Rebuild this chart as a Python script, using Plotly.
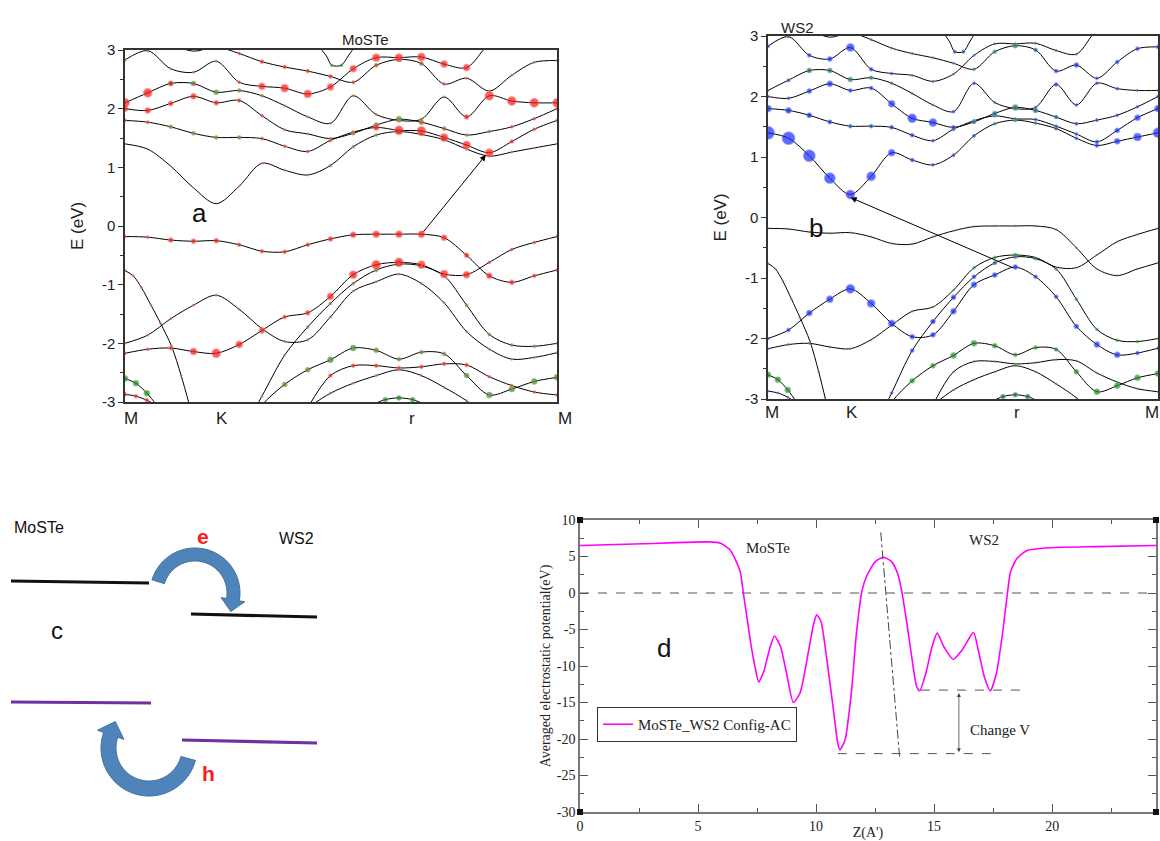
import numpy as np
import plotly.graph_objects as go

W, H = 1160, 841

# ---------------- band-structure data (shared energies, projected weights) ----------------
KPATH_TICKS = [0.0, 0.333, 1.0, 1.577]
KPATH_LABELS = ["M", "K", "r", "M"]
E_TICKS = [-3, -2, -1, 0, 1, 2, 3]
E_TICK_LABELS = ["-3", "-2", "-1", "0", "1", "2", "3"]

K_GRID = [0.0, 0.083, 0.167, 0.25, 0.333, 0.417, 0.5, 0.583, 0.667, 0.75,
          0.833, 0.917, 1.0, 1.082, 1.165, 1.247, 1.33, 1.412, 1.494, 1.577]

CB1_E = [1.40, 1.31, 1.02, 0.65, 0.38, 0.68, 1.07, 0.95, 0.87, 1.03, 1.35, 1.55, 1.61, 1.56, 1.47, 1.31, 1.19, 1.26, 1.33, 1.40]
CB1_RED = [0, 0, 0, 0, 0, 2, 2, 2, 2, 2, 2, 2, 2, 2, 2, 2, 2, 2, 2, 2]
CB1_BLUE = [13, 13, 12, 11, 9, 9, 7, 4, 3, 3, 3, 2, 2, 2, 3, 3, 4, 6, 8, 10]
CB1_GREEN = [0, 0, 0, 0, 0, 0, 0, 2, 2, 3, 3, 3, 4, 3, 3, 2, 2, 2, 0, 0]

CB2_E = [1.80, 1.77, 1.69, 1.58, 1.51, 1.51, 1.49, 1.36, 1.27, 1.46, 1.60, 1.68, 1.63, 1.62, 1.51, 1.38, 1.25, 1.44, 1.65, 1.80]
CB2_RED = [3, 3, 2, 2, 2, 2, 3, 3, 3, 3, 3, 6, 9, 9, 8, 8, 8, 4, 3, 3]
CB2_BLUE = [7, 6, 5, 4, 3, 3, 4, 4, 3, 3, 2, 2, 2, 3, 3, 3, 4, 5, 6, 7]
CB2_GREEN = [3, 3, 4, 4, 4, 4, 3, 2, 2, 3, 3, 3, 3, 2, 2, 2, 2, 2, 2, 2]

CB3_E = [2.00, 1.97, 2.09, 2.21, 2.10, 2.14, 1.88, 1.64, 1.57, 1.49, 1.58, 1.72, 1.82, 1.77, 1.66, 1.55, 1.61, 1.69, 1.83, 2.00]
CB3_RED = [6, 6, 5, 6, 5, 4, 3, 2, 2, 2, 2, 3, 3, 3, 3, 2, 2, 3, 3, 3]
CB3_BLUE = [3, 3, 5, 6, 4, 4, 7, 9, 8, 4, 3, 3, 3, 3, 3, 3, 3, 3, 3, 3]
CB3_GREEN = [2, 2, 2, 2, 2, 2, 2, 2, 2, 3, 4, 5, 6, 5, 4, 3, 3, 2, 2, 2]

CB4_E = [2.10, 2.27, 2.43, 2.43, 2.28, 2.31, 2.22, 2.05, 1.86, 1.75, 2.22, 1.90, 1.80, 1.82, 2.20, 1.86, 2.22, 2.13, 2.10, 2.10]
CB4_RED = [9, 9, 5, 3, 2, 2, 2, 2, 2, 2, 2, 2, 2, 2, 2, 5, 9, 9, 9, 9]
CB4_BLUE = [2, 3, 3, 3, 2, 2, 2, 2, 2, 3, 3, 2, 2, 2, 4, 3, 3, 3, 2, 2]
CB4_GREEN = [2, 3, 5, 5, 5, 4, 3, 2, 2, 2, 2, 2, 3, 3, 2, 2, 2, 2, 2, 2]

CB5_E = [2.83, 2.99, 2.68, 2.62, 2.81, 2.45, 2.38, 2.35, 2.25, 2.37, 2.68, 2.87, 2.87, 2.88, 2.76, 2.70, 3.10, 3.25, 3.30, 3.30]
CB5_RED = [2, 2, 2, 2, 2, 3, 7, 8, 8, 7, 7, 8, 8, 8, 7, 7, 7, 0, 0, 0]
CB5_BLUE = [3, 2, 4, 5, 8, 4, 3, 2, 2, 2, 2, 2, 2, 2, 2, 2, 2, 0, 0, 0]
CB5_GREEN = [3, 3, 2, 2, 2, 2, 2, 2, 2, 2, 2, 2, 2, 2, 2, 2, 2, 0, 0, 0]

CB6_E = [3.30, 3.30, 3.10, 2.98, 3.05, 2.94, 2.80, 2.71, 2.64, 2.55, 2.45, 2.74, 2.84, 2.77, 2.42, 2.52, 2.30, 2.57, 2.79, 2.82]
CB6_RED = [0, 0, 0, 0, 0, 3, 4, 4, 4, 4, 3, 3, 3, 3, 3, 2, 2, 2, 2, 2]
CB6_BLUE = [0, 0, 0, 0, 0, 2, 2, 2, 2, 2, 2, 2, 2, 3, 4, 5, 3, 4, 4, 4]
CB6_GREEN = [0, 0, 0, 0, 0, 2, 2, 2, 2, 2, 3, 4, 5, 4, 2, 2, 2, 2, 2, 2]

TOPV_K = [0.70, 0.735, 0.755, 0.79, 0.815, 0.845]
TOPV_E = [3.10, 2.90, 2.74, 2.74, 2.90, 3.10]
TOPV_RED = [0, 0, 0, 0, 0, 0]
TOPV_BLUE = [0, 0, 3, 3, 0, 0]
TOPV_GREEN = [0, 0, 3, 3, 0, 0]

VB1_E = [-0.18, -0.19, -0.24, -0.26, -0.25, -0.32, -0.43, -0.44, -0.32, -0.22, -0.15, -0.14, -0.14, -0.14, -0.20, -0.50, -0.85, -0.96, -0.85, -0.75]
VB1_RED = [3, 3, 5, 5, 5, 4, 4, 4, 4, 5, 6, 7, 7, 7, 6, 5, 6, 5, 4, 3]
VB1_BLUE = [0] * 20
VB1_GREEN = [2] * 20

VB2_E = [-2.17, -2.10, -2.08, -2.14, -2.17, -2.02, -1.78, -1.55, -1.48, -1.20, -0.83, -0.66, -0.62, -0.66, -0.82, -0.83, -0.62, -0.40, -0.28, -0.18]
VB2_RED = [3, 3, 4, 7, 9, 7, 6, 4, 5, 7, 8, 9, 9, 8, 8, 7, 3, 3, 3, 3]
VB2_BLUE = [2, 2, 2, 2, 0, 0, 0, 0, 0, 0, 0, 0, 0, 0, 0, 0, 0, 0, 0, 0]
VB2_GREEN = [2, 2, 2, 2, 2, 2, 2, 2, 2, 2, 3, 3, 4, 0, 0, 0, 2, 2, 2, 2]

VB3_E = [None, None, None, None, None, -3.6, -2.9, -2.2, -1.72, -1.32, -0.98, -0.75, -0.65, -0.68, -0.85, -1.35, -1.85, -2.03, -2.05, -2.00]
VB3_RED = [0, 0, 0, 0, 0, 2, 2, 2, 2, 2, 2, 2, 2, 2, 2, 2, 2, 2, 2, 2]
VB3_BLUE = [0, 0, 0, 0, 0, 2, 3, 4, 5, 5, 4, 3, 2, 0, 0, 0, 0, 0, 0, 0]
VB3_GREEN = [0, 0, 0, 0, 0, 2, 2, 2, 3, 3, 3, 4, 4, 3, 3, 3, 3, 3, 3, 2]

VB4_E = [-2.00, -1.86, -1.58, -1.35, -1.18, -1.42, -1.75, -1.97, -1.94, -1.55, -1.11, -0.95, -0.82, -0.98, -1.31, -1.80, -2.10, -2.27, -2.24, -2.16]
VB4_RED = [2] * 20
VB4_BLUE = [3, 4, 6, 7, 9, 8, 7, 5, 5, 6, 6, 5, 5, 4, 4, 5, 6, 6, 4, 3]
VB4_GREEN = [2] * 20

VB5_K = [0.0, 0.03, 0.06, 0.095, 0.13, 0.17, 0.205, 0.235]
VB5_E = [-0.76, -0.85, -1.05, -1.35, -1.66, -2.05, -2.55, -3.05]
VB5_RED = [2] * 8
VB5_BLUE = [0] * 8
VB5_GREEN = [2] * 8

VB6_E = [None, None, None, None, None, -3.6, -3.05, -2.70, -2.45, -2.28, -2.08, -2.12, -2.27, -2.15, -2.18, -2.55, -2.88, -2.78, -2.65, -2.58]
VB6_RED = [0, 0, 0, 0, 0, 0, 2, 2, 2, 2, 2, 2, 2, 2, 2, 2, 2, 2, 2, 2]
VB6_BLUE = [0] * 20
VB6_GREEN = [0, 0, 0, 0, 0, 0, 4, 5, 5, 6, 6, 5, 4, 4, 4, 5, 6, 6, 6, 6]

VB7_E = [None] * 8 + [-3.1, -2.55, -2.38, -2.38, -2.42, -2.40, -2.35, -2.37, -2.57, -2.72, -2.83, -2.88]
VB7_RED = [0] * 8 + [4, 4, 4, 4, 4, 4, 4, 4, 3, 3, 3, 3]
VB7_BLUE = [0] * 20
VB7_GREEN = [0] * 8 + [2] * 12

VB8_E = [None] * 8 + [-3.1, -2.85, -2.68, -2.55, -2.45, -2.55, -2.75, -2.98, -3.3, None, None, None]
VB8_RED = [0] * 8 + [2] * 9 + [0] * 3
VB8_BLUE = [0] * 20
VB8_GREEN = [0] * 8 + [2] * 9 + [0] * 3

VB9_K = [0.0, 0.04, 0.08, 0.12]
VB9_E = [-2.60, -2.68, -2.85, -3.08]
VB9_RED = [0, 0, 0, 0]
VB9_BLUE = [0, 0, 0, 0]
VB9_GREEN = [6, 6, 6, 6]

VB10_K = [0.0, 0.04, 0.08, 0.12]
VB10_E = [-2.87, -2.90, -2.97, -3.08]
VB10_RED = [4, 4, 4, 4]
VB10_BLUE = [2, 2, 2, 2]
VB10_GREEN = [2, 2, 2, 2]

VB11_K = [0.90, 0.95, 1.0, 1.05, 1.10]
VB11_E = [-3.05, -2.96, -2.93, -2.96, -3.05]
VB11_RED = [0, 0, 0, 0, 0]
VB11_BLUE = [3, 3, 3, 3, 3]
VB11_GREEN = [5, 5, 5, 5, 5]

# ---------------- electrostatic potential data ----------------
POT_Z = [0, 2.68, 5.42, 5.93, 6.36, 6.65, 6.79, 6.92, 7.13, 7.26, 7.44, 7.57, 7.81, 8.02, 8.24,
         8.50, 8.75, 9.04, 9.32, 9.69, 9.90, 10.03, 10.21, 10.46, 10.72, 10.92, 11.01, 11.23,
         11.49, 11.71, 11.95, 12.17, 12.51, 12.85, 13.20, 13.45, 13.62, 13.85, 14.05, 14.26,
         14.39, 14.65, 14.91, 15.13, 15.42, 15.81, 16.19, 16.67, 16.87, 17.13, 17.38, 17.64,
         17.90, 18.07, 18.24, 18.50, 18.92, 19.95, 21.83, 24.4]
POT_V = [6.5, 6.75, 7.0, 6.85, 5.9, 4.1, 2.9, 0.0, -4.6, -7.4, -10.5, -12.2, -10.5, -7.8, -5.9,
         -7.4, -11.0, -15.0, -13.7, -7.8, -4.2, -3.0, -3.9, -9.2, -15.6, -20.6, -21.5, -20.1,
         -13.8, -5.5, 0.4, 2.5, 4.3, 4.9, 4.3, 2.7, 0.4, -4.2, -8.7, -12.8,
         -13.4, -11.0, -7.4, -5.5, -7.4, -9.1, -7.8, -5.4, -7.8, -11.5, -13.4, -11.0,
         -5.5, -1.0, 2.9, 4.7, 5.8, 6.2, 6.35, 6.5]
POT_NAME = "MoSTe_WS2 Config-AC"
V_TICKS = [-30, -25, -20, -15, -10, -5, 0, 5, 10]
V_TICK_LABELS = ["-30", "-25", "-20", "-15", "-10", "-5", "0", "5", "10"]

# ---------------------------------------------------------------------------------
def px(x):
    return x / W


def py(y):
    return 1 - y / H


BANDS = [
    (K_GRID, CB1_E, CB1_RED, CB1_BLUE, CB1_GREEN),
    (K_GRID, CB2_E, CB2_RED, CB2_BLUE, CB2_GREEN),
    (K_GRID, CB3_E, CB3_RED, CB3_BLUE, CB3_GREEN),
    (K_GRID, CB4_E, CB4_RED, CB4_BLUE, CB4_GREEN),
    (K_GRID, CB5_E, CB5_RED, CB5_BLUE, CB5_GREEN),
    (K_GRID, CB6_E, CB6_RED, CB6_BLUE, CB6_GREEN),
    (TOPV_K, TOPV_E, TOPV_RED, TOPV_BLUE, TOPV_GREEN),
    (K_GRID, VB1_E, VB1_RED, VB1_BLUE, VB1_GREEN),
    (K_GRID, VB2_E, VB2_RED, VB2_BLUE, VB2_GREEN),
    (K_GRID, VB3_E, VB3_RED, VB3_BLUE, VB3_GREEN),
    (K_GRID, VB4_E, VB4_RED, VB4_BLUE, VB4_GREEN),
    (VB5_K, VB5_E, VB5_RED, VB5_BLUE, VB5_GREEN),
    (K_GRID, VB6_E, VB6_RED, VB6_BLUE, VB6_GREEN),
    (K_GRID, VB7_E, VB7_RED, VB7_BLUE, VB7_GREEN),
    (K_GRID, VB8_E, VB8_RED, VB8_BLUE, VB8_GREEN),
    (VB9_K, VB9_E, VB9_RED, VB9_BLUE, VB9_GREEN),
    (VB10_K, VB10_E, VB10_RED, VB10_BLUE, VB10_GREEN),
    (VB11_K, VB11_E, VB11_RED, VB11_BLUE, VB11_GREEN),
]

fig = go.Figure()

PANELS = [
    dict(xa="x", ya="y", wi=2, col="#ff1a1a", edge="#ff8a8a", lab_y=418, shifts=[6, 6, 13, 8]),
    dict(xa="x2", ya="y2", wi=3, col="#1a2cff", edge="#7f8cff", lab_y=413, shifts=[4, 2, 2, -6]),
]
GREEN = "#1f8c1f"
GREEN_EDGE = "#63b863"

for p in PANELS:
    for b in BANDS:
        k = np.array(b[0], dtype=float)
        e = np.array(b[1], dtype=float)
        fig.add_trace(go.Scatter(x=k, y=e, xaxis=p["xa"], yaxis=p["ya"], mode="lines",
                                 line=dict(color="black", width=1, shape="spline", smoothing=0.9),
                                 hoverinfo="skip", showlegend=False))
    for b in BANDS:
        k = np.array(b[0], dtype=float)
        e = np.array(b[1], dtype=float)
        s = np.array(b[4], dtype=float)
        ym = np.where(s > 0, e, np.nan)
        fig.add_trace(go.Scatter(x=k, y=ym, xaxis=p["xa"], yaxis=p["ya"], mode="markers",
                                 marker=dict(size=s, color=GREEN, line=dict(color=GREEN_EDGE, width=0.6)),
                                 hoverinfo="skip", showlegend=False))
    for b in BANDS:
        k = np.array(b[0], dtype=float)
        e = np.array(b[1], dtype=float)
        s = np.array(b[p["wi"]], dtype=float)
        ym = np.where(s > 0, e, np.nan)
        fig.add_trace(go.Scatter(x=k, y=ym, xaxis=p["xa"], yaxis=p["ya"], mode="markers",
                                 marker=dict(size=s, color=p["col"], line=dict(color=p["edge"], width=0.8)),
                                 hoverinfo="skip", showlegend=False))

# potential curve (panel d)
fig.add_trace(go.Scatter(x=POT_Z, y=POT_V, xaxis="x4", yaxis="y4", mode="lines", name=POT_NAME,
                         line=dict(color="#ff00ff", width=1.6, shape="spline", smoothing=0.6),
                         hoverinfo="skip", showlegend=True))

SANS = "Liberation Sans, Arial, sans-serif"
SERIF = "Liberation Serif, Times New Roman, serif"

band_x = dict(range=[0, 1.577], tickvals=KPATH_TICKS, showticklabels=False, ticks="",
              showline=True, mirror=True, linecolor="#333", linewidth=1.5, showgrid=False,
              zeroline=False, automargin=False)
band_y = dict(range=[-3, 3], tickvals=E_TICKS, ticktext=E_TICK_LABELS, ticks="outside", ticklen=5,
              tickcolor="#333",
              minor=dict(dtick=0.5, ticks="outside", ticklen=3, tickcolor="#333"),
              showline=True, mirror=True, linecolor="#333", linewidth=1.5, showgrid=False,
              zeroline=False, automargin=False, tickfont=dict(family=SANS, size=15, color="#222"),
              title=dict(text="E (eV)", font=dict(family=SANS, size=17, color="#222"), standoff=14))

layout = dict(
    width=W, height=H, margin=dict(l=0, r=0, t=0, b=0, autoexpand=False),
    paper_bgcolor="white", plot_bgcolor="white", hovermode=False,
    xaxis=dict(domain=[px(125), px(557)], anchor="y", **band_x),
    yaxis=dict(domain=[py(402), py(50)], anchor="x", **band_y),
    xaxis2=dict(domain=[px(768), px(1158)], anchor="y2", **band_x),
    yaxis2=dict(domain=[py(399), py(36)], anchor="x2", **band_y),
    xaxis3=dict(domain=[0, px(330)], anchor="y3", range=[0, 330], visible=False, automargin=False),
    yaxis3=dict(domain=[py(840), py(490)], anchor="x3", range=[840, 490], visible=False, automargin=False),
    xaxis4=dict(domain=[px(580), px(1156)], anchor="y4", range=[0, 24.4], dtick=5,
                ticks="inside", ticklen=8, tickcolor="#555", tickwidth=1,
                minor=dict(dtick=2.5, ticks="inside", ticklen=4, tickcolor="#555"),
                showline=True, mirror="allticks", linecolor="#777", linewidth=1.5,
                showgrid=False, zeroline=False, ticklabelstandoff=0, automargin=False,
                tickfont=dict(family=SERIF, size=14, color="#222"),
                title=dict(text="Z(A')", font=dict(family=SERIF, size=14, color="#222"), standoff=0)),
    yaxis4=dict(domain=[py(812), py(520)], anchor="x4", range=[-30, 10],
                tickvals=V_TICKS, ticktext=V_TICK_LABELS,
                ticks="inside", ticklen=8, tickcolor="#555", tickwidth=1,
                minor=dict(dtick=2.5, ticks="inside", ticklen=4, tickcolor="#555"),
                showline=True, mirror="allticks", linecolor="#777", linewidth=1.5,
                showgrid=False, zeroline=False, automargin=False,
                tickfont=dict(family=SERIF, size=14, color="#222"),
                title=dict(text="Averaged electrostatic potential(eV)",
                           font=dict(family=SERIF, size=14, color="#222"), standoff=3)),
    legend=dict(x=px(597), y=py(707), xanchor="left", yanchor="top", bgcolor="white",
                bordercolor="#333", borderwidth=1, itemwidth=30,
                font=dict(family=SERIF, size=15, color="#222")),
)
fig.update_layout(**layout)

ann = []
# k-point labels under the band panels
for p in PANELS:
    for kv, lab, sh in zip(KPATH_TICKS, KPATH_LABELS, p["shifts"]):
        ann.append(dict(text=lab, x=kv, y=py(p["lab_y"]), xref=p["xa"], yref="paper", xshift=sh,
                        showarrow=False, font=dict(family=SANS, size=17, color="#222")))
# titles and labels of band panels
ann.append(dict(text="MoSTe", x=px(340), y=py(29), xref="paper", yref="paper", showarrow=False,
                font=dict(family=SANS, size=15, color="#222")))
ann.append(dict(text="WS2", x=px(816), y=py(17), xref="paper", yref="paper", showarrow=False,
                font=dict(family=SANS, size=15, color="#222")))
ann.append(dict(text="a", x=px(190), y=py(196), xref="paper", yref="paper", showarrow=False,
                font=dict(family=SANS, size=26, color="#111")))
ann.append(dict(text="b", x=px(825), y=py(211), xref="paper", yref="paper", showarrow=False,
                font=dict(family=SANS, size=26, color="#111")))
# transition arrows
ann.append(dict(x=1.317, y=1.21, ax=1.085, ay=-0.125, xref="x", yref="y", axref="x", ayref="y",
                showarrow=True, arrowhead=2, arrowsize=1.2, arrowwidth=1, arrowcolor="black", text=""))
ann.append(dict(x=0.334, y=0.33, ax=0.996, ay=-0.84, xref="x2", yref="y2", axref="x2", ayref="y2",
                showarrow=True, arrowhead=2, arrowsize=1.2, arrowwidth=1, arrowcolor="black", text=""))

# panel c texts
ann.append(dict(text="MoSTe", x=39, y=527, xref="x3", yref="y3", showarrow=False,
                font=dict(family=SANS, size=16, color="#111")))
ann.append(dict(text="WS2", x=296, y=538, xref="x3", yref="y3", showarrow=False,
                font=dict(family=SANS, size=16, color="#111")))
ann.append(dict(text="<b>e</b>", x=203, y=536, xref="x3", yref="y3", showarrow=False,
                font=dict(family=SANS, size=21, color="#ff1a1a")))
ann.append(dict(text="<b>h</b>", x=208, y=773, xref="x3", yref="y3", showarrow=False,
                font=dict(family=SANS, size=21, color="#ff1a1a")))
ann.append(dict(text="c", x=57, y=630, xref="x3", yref="y3", showarrow=False,
                font=dict(family=SANS, size=24, color="#111")))

# panel d texts
ann.append(dict(text="MoSTe", x=7.95, y=6.1, xref="x4", yref="y4", showarrow=False,
                font=dict(family=SERIF, size=15, color="#222")))
ann.append(dict(text="WS2", x=17.1, y=7.2, xref="x4", yref="y4", showarrow=False,
                font=dict(family=SERIF, size=15, color="#222")))
ann.append(dict(text="Change V", x=17.8, y=-18.7, xref="x4", yref="y4", showarrow=False,
                font=dict(family=SERIF, size=15, color="#222")))
ann.append(dict(text="d", x=3.54, y=-7.6, xref="x4", yref="y4", showarrow=False,
                font=dict(family=SANS, size=26, color="#111")))
ann.append(dict(x=16.05, y=-21.8, ax=16.05, ay=-13.5, xref="x4", yref="y4", axref="x4", ayref="y4",
                showarrow=True, arrowhead=2, startarrowhead=2, arrowside="end+start", arrowsize=1,
                arrowwidth=0.8, arrowcolor="#444", text=""))
fig.update_layout(annotations=ann)

shapes = []
# panel c energy levels
for (x0, x1, y0, y1, c) in [(11, 149, 581, 583, "#111111"), (191, 317, 614, 617, "#111111"),
                            (11, 151, 702, 703, "#7030a0"), (182, 317, 740, 743, "#7030a0")]:
    shapes.append(dict(type="line", x0=x0, x1=x1, y0=y0, y1=y1, xref="x3", yref="y3",
                       line=dict(color=c, width=3.2)))


def curved_arrow(cx, cy, r_in, r_out, a0, a1, head_len, head_wide):
    th = np.radians(np.linspace(a0, a1, 50))
    outer = [(cx + r_out * np.cos(t), cy - r_out * np.sin(t)) for t in th]
    inner = [(cx + r_in * np.cos(t), cy - r_in * np.sin(t)) for t in th]
    t1 = np.radians(a1)
    sgn = 1 if a1 < a0 else -1
    d = (sgn * np.sin(t1), sgn * np.cos(t1))
    rm = 0.5 * (r_in + r_out)
    mid = (cx + rm * np.cos(t1), cy - rm * np.sin(t1))
    bo = (cx + (rm + head_wide / 2) * np.cos(t1), cy - (rm + head_wide / 2) * np.sin(t1))
    bi = (cx + (rm - head_wide / 2) * np.cos(t1), cy - (rm - head_wide / 2) * np.sin(t1))
    tip = (mid[0] + head_len * d[0], mid[1] + head_len * d[1])
    pts = outer + [bo, tip, bi] + inner[::-1]
    path = "M " + " L ".join(f"{x:.2f},{y:.2f}" for x, y in pts) + " Z"
    return path


shapes.append(dict(type="path", path=curved_arrow(195, 593, 32, 45, 163, -10, 12, 24),
                   xref="x3", yref="y3", fillcolor="#4f84bb", line=dict(color="#41719c", width=1)))
shapes.append(dict(type="path", path=curved_arrow(149, 748, 33, 48, -15, -199, 14, 28),
                   xref="x3", yref="y3", fillcolor="#4f84bb", line=dict(color="#41719c", width=1)))

# panel d guide lines
shapes.append(dict(type="line", x0=0, x1=24.4, y0=0, y1=0, xref="x4", yref="y4",
                   line=dict(color="#555", width=1, dash="dash")))
shapes.append(dict(type="line", x0=12.74, x1=13.54, y0=8.3, y1=-22.5, xref="x4", yref="y4",
                   line=dict(color="#444", width=1, dash="dashdot")))
shapes.append(dict(type="line", x0=10.92, x1=17.73, y0=-22.0, y1=-22.0, xref="x4", yref="y4",
                   line=dict(color="#555", width=1, dash="dash")))
shapes.append(dict(type="line", x0=14.44, x1=18.84, y0=-13.3, y1=-13.3, xref="x4", yref="y4",
                   line=dict(color="#555", width=1, dash="dash")))
# grace-style corner squares
for (cxp, cyp) in [(580, 520), (1156, 520), (580, 812), (1156, 812)]:
    shapes.append(dict(type="rect", xref="paper", yref="paper", x0=px(cxp - 3), x1=px(cxp + 3),
                       y0=py(cyp + 3), y1=py(cyp - 3), fillcolor="#111", line=dict(width=0)))
fig.update_layout(shapes=shapes)

fig.write_html("out.html", config=dict(displayModeBar=False),
               post_script="document.body.style.margin='0px';document.body.style.overflow='hidden';")
